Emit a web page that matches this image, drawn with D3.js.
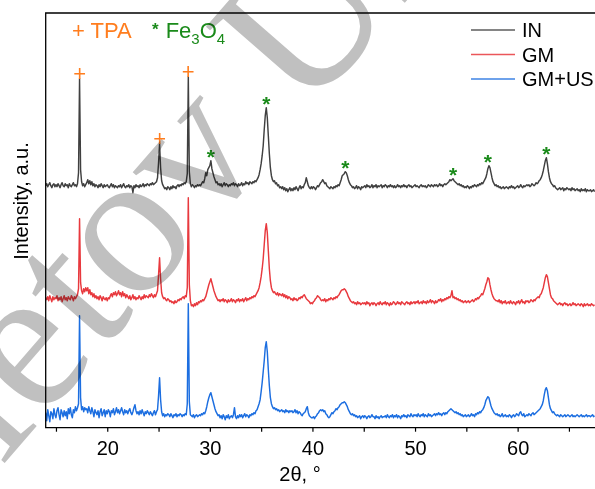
<!DOCTYPE html>
<html><head><meta charset="utf-8">
<script src="https://cdn.jsdelivr.net/npm/d3@7"></script>
<style>body{margin:0;background:#fff}svg{display:block}</style>
</head><body>
<svg id="c" width="595" height="489"></svg>
<script>
// 2θ sampling of the patterns (start, step)
const thetaStart = 14.0, thetaStep = 0.1;
// Intensity (a.u.), one value per step
const IN = [
2,4,1,3,5,2,0,3,4,1, 3,1,4,2,0,3,5,2,1,4, 2,3,0,4,2,1,3,5,2,3, 1,4,15,109,18,6,2,4,1,3,
5,8,4,7,3,6,2,4,1,3, 2,0,3,1,4,2,0,3,1,2, 3,1,0,2,4,1,3,0,2,1, 0,2,1,3,0,2,4,1,0,2,
1,3,0,2,1,-5,2,0,3,1, 2,0,3,1,2,4,1,3,2,4, 3,2,4,3,5,3,4,5,6,10, 25,44,20,7,3,1,-1,0,-2,1,
0,-2,1,-1,2,0,1,-1,2,3, 1,3,2,4,3,5,4,6,14,111, 16,4,1,3,2,0,2,1,3,2, 3,2,4,6,5,9,15,12,18,20,
22,27,19,15,11,8,5,6,3,4, 2,4,1,3,5,2,4,3,1,3, 2,4,3,5,2,4,3,1,4,2, 3,5,2,4,3,6,4,5,3,6,
5,4,6,5,7,6,8,10,13,18, 24,32,42,58,72,80,70,52,34,20, 12,8,6,7,4,5,2,3,0,1, -1,1,-2,0,-3,-1,-4,-2,0,-3,
-1,-3,0,-2,1,-1,-3,0,2,-1, 1,0,3,5,10,6,2,0,-1,1, -1,1,0,-2,0,2,1,3,5,6, 8,6,4,5,2,1,0,-1,1,0,
-1,1,0,2,1,3,2,5,8,12, 13,14,16,15,12,8,5,3,2,0, 1,-1,0,2,-1,1,0,-2,1,0, 1,2,0,3,1,2,0,1,3,0,
2,1,3,0,2,1,2,3,0,2, 1,3,2,0,2,1,3,1,2,0, 2,0,1,3,1,2,0,2,1,3, 1,2,0,2,3,1,2,0,1,2,
3,1,2,1,0,2,3,1,2,1, 2,0,1,3,2,1,3,2,1,3, 2,3,1,2,4,2,3,1,3,4, 3,4,5,6,8,7,8,9,7,6,
5,4,3,4,2,3,1,2,0,1, 0,2,1,-1,1,0,2,1,3,2, 1,3,2,4,3,5,4,6,8,10, 14,19,22,20,15,10,6,4,2,3,
1,2,0,1,-1,0,1,-1,0,1, 0,-1,1,0,2,0,1,-1,0,1, 2,0,1,3,1,0,2,1,2,3, 2,3,1,2,4,3,2,3,5,4,
5,7,8,10,13,17,22,27,30,24, 16,10,6,4,3,1,2,0,-1,-2, -1,0,-2,-1,0,-3,-1,-2,0,-1, -2,-1,-3,0,-2,-1,-3,-2,-1,-3,
-2,-4,-1,-3,-2,-3,-1,-4,-2,-3, -3,-2,-4,-3,-2,-4
];
const GM = [
5,3,6,2,7,4,1,6,3,5, 4,7,2,5,3,6,1,4,7,3, 5,2,6,4,3,7,5,2,6,4, 6,8,14,84,20,12,9,14,11,15,
12,15,9,13,8,10,6,9,5,7, 4,6,3,7,5,2,6,4,3,5, 2,5,4,7,9,6,10,8,11,7, 9,12,8,10,6,11,7,9,5,8,
6,4,7,3,5,8,4,6,3,5, 4,7,5,3,6,4,8,5,7,6, 5,8,6,9,7,5,8,6,9,12, 28,45,24,10,6,4,5,3,2,4,
3,1,2,0,1,-1,2,0,1,3, 2,4,3,5,6,4,7,6,15,105, 18,2,-3,-2,-4,-1,-3,0,-2,1, 0,2,1,3,2,4,6,10,14,18,
21,24,20,16,12,9,6,4,2,3, 1,3,2,4,1,3,2,0,3,1, 2,4,1,3,2,0,3,2,4,1, 3,2,4,1,3,5,2,4,3,5,
4,6,5,7,6,8,10,12,15,20, 26,34,44,58,72,79,70,52,34,22, 15,12,10,11,9,8,10,7,9,8, 7,9,6,8,5,7,4,6,5,3,
4,2,5,3,4,2,3,5,4,6, 5,7,8,6,4,3,2,1,-1,0, -1,1,2,4,5,7,6,5,3,2, 3,2,4,1,3,2,4,3,5,4,
3,5,4,6,5,7,8,10,12,13, 13,14,13,11,9,6,4,2,1,0, 1,-1,0,-2,1,-1,0,-2,-1,0, -1,0,-2,1,-1,0,-3,-1,0,-2,
0,-1,-3,-1,0,-2,1,-1,-2,0, -1,1,-2,0,-1,-3,0,-2,-1,1, 0,-2,-1,1,-1,0,-2,1,0,-1, -2,0,1,-1,0,-2,1,-1,0,1,
-1,1,0,2,-1,0,1,-1,2,0, 1,-1,2,0,1,3,0,2,1,-1, 2,0,1,3,2,4,1,3,2,4, 3,5,4,6,5,7,12,5,6,4,
5,3,4,2,3,1,2,0,1,2, 0,1,2,0,1,2,3,1,2,4, 3,5,4,6,7,9,8,11,14,18, 21,25,24,18,13,9,6,4,3,2,
2,1,3,0,2,-1,1,0,2,-1, 0,1,-1,2,0,-1,1,0,-2,1, 0,2,-1,1,3,0,1,-1,2,1, 2,0,1,3,2,1,3,2,4,5,
6,5,8,9,12,15,20,25,28,26, 20,14,8,5,4,2,1,0,-1,-2, -1,0,-2,-1,-3,-1,0,-2,-1,-3, -2,-1,-3,-2,0,-2,-1,-3,-2,-1,
-2,-3,-1,-2,-4,-1,-3,-2,-1,-3, -2,-3,-1,-2,-3,-2
];
const GMUS = [
3,-5,6,0,-6,4,2,-3,7,1, -2,5,8,1,-4,6,3,-1,5,0, 4,-3,7,2,8,1,-2,6,3,9, 5,8,12,100,18,6,9,4,8,6,
7,3,9,5,2,8,4,-1,6,3, 1,5,-2,4,7,0,3,6,-1,5, 2,6,4,-1,5,3,7,1,4,8, 3,6,2,5,8,4,1,6,3,5,
2,5,7,3,1,4,8,11,5,2, 4,1,5,2,6,3,0,4,2,5, 3,1,4,2,0,3,5,1,4,6, 20,38,16,4,0,2,-1,1,0,2,
1,-1,2,0,-2,1,0,2,-1,1, 0,2,1,-1,1,0,2,1,12,112, 14,1,0,-1,1,-2,0,1,-1,0, 1,0,2,1,3,2,5,9,14,18,
21,23,19,15,11,7,4,2,0,1, -2,0,-3,1,-1,-4,0,-2,1,-3, -1,0,-2,1,8,-1,-3,0,-2,1, -1,1,-2,0,2,-1,1,0,-2,1,
0,2,1,3,2,5,6,9,12,16, 24,33,44,55,68,74,64,46,30,18, 12,9,7,8,6,7,5,6,4,5, 6,4,5,3,6,4,5,3,5,4,
5,3,4,6,3,5,2,4,3,1, 0,2,3,4,7,9,3,0,-1,-2, -2,-1,-3,-1,0,2,3,5,6,5, 6,4,5,2,1,-1,-2,-1,1,3,
2,4,5,7,6,8,9,11,12,13, 13,14,13,11,9,6,4,2,1,2, 0,1,-1,0,-2,-1,0,-3,-1,0, -2,0,-1,-3,-1,0,-2,-1,1,-1,
-1,-3,0,-2,-1,-3,-1,0,-2,-1, -1,0,-2,1,-1,-2,0,-1,1,-2, 0,-1,1,-2,0,-1,-3,0,-1,1, -1,0,-2,1,0,-1,2,0,-1,1,
0,1,-1,2,0,-1,1,0,2,-1, 1,0,-1,2,0,1,-1,0,1,2, 0,2,1,3,1,2,0,2,3,1, 3,2,4,5,6,7,6,5,4,3,
4,2,3,1,2,0,1,-1,0,1, -1,0,1,-1,0,2,0,1,-1,2, 1,3,2,4,3,5,6,8,11,15, 17,19,18,14,10,7,5,3,2,1,
2,0,1,-1,0,2,-1,0,1,-1, 0,-1,1,0,-2,0,1,-1,0,2, 1,0,3,4,1,0,2,-1,0,1, 0,2,1,0,2,3,1,2,3,4,
5,6,7,9,11,15,21,26,28,25, 18,11,7,5,3,4,2,1,0,1, 0,-1,1,0,-1,0,1,-1,0,1, 0,-1,0,1,-1,0,-1,0,1,0,
-1,0,1,-1,0,-1,0,1,-1,0, 0,-1,0,1,-1,0
];
const seriesNames = ["IN", "GM", "GM+US"];
const seriesOffsets = [240, 125, 12];   // vertical stacking offsets, a.u.
const seriesColors = ["#404040", "#e8393e", "#1c6ee0"];
const tpaPeaks = [17.3, 25.1, 27.9];
const fePeaks = [30.1, 35.5, 43.2, 53.7, 57.1, 62.8];
const xTickValues = [15, 20, 25, 30, 35, 40, 45, 50, 55, 60, 65];
const xTickLabels = ["", "20", "", "30", "", "40", "", "50", "", "60", ""];
const xTitle = "2θ, °";
const yTitle = "Intensity, a.u.";
const watermark = "letov Uni";

const svg = d3.select("#c");
const L = 45.7, T = 13, B = 427.7, R = 595.6;
const x = d3.scaleLinear().domain([14, 67.6]).range([L, R]);
const y = d3.scaleLinear().domain([0, 414.7]).range([B, T]);
const FONT = "'Liberation Sans', Arial, sans-serif";

const seriesData = [IN, GM, GMUS];
svg.append("defs").append("clipPath").attr("id", "clip")
  .append("rect").attr("x", L).attr("y", T).attr("width", R - L + 10).attr("height", B - T);

const line = d3.line().x(d => x(d[0])).y(d => y(d[1]));
const gLines = svg.append("g").attr("clip-path", "url(#clip)");
seriesData.forEach((vals, k) => {
  const pts = vals.map((v, i) => [thetaStart + i * thetaStep, v + seriesOffsets[k]]);
  gLines.append("path").datum(pts).attr("d", line)
    .attr("fill", "none").attr("stroke", seriesColors[k]).attr("stroke-width", 1.45)
    .attr("stroke-linejoin", "round");
});

function peakTop(pos) {
  let best = -1e9;
  IN.forEach((v, i) => { const t = thetaStart + i * thetaStep; if (Math.abs(t - pos) < 0.16) best = Math.max(best, v); });
  return y(best + seriesOffsets[0]);
}
svg.append("g").selectAll("text").data(tpaPeaks).join("text")
  .attr("x", d => x(d)).attr("y", d => peakTop(d) + 2)
  .attr("text-anchor", "middle").attr("font-family", FONT).attr("font-size", 22)
  .attr("fill", "#ff7d1e").text("+");
svg.append("g").selectAll("text").data(fePeaks).join("text")
  .attr("x", d => x(d)).attr("y", d => peakTop(d) + 3)
  .attr("text-anchor", "middle").attr("font-family", FONT).attr("font-size", 21).attr("font-weight", "bold")
  .attr("fill", "#1a8a1a").text("*");

// axes frame
svg.append("path").attr("d", `M${R + 5},${T}H${L}V${B}H${R + 5}`)
  .attr("fill", "none").attr("stroke", "#000").attr("stroke-width", 1.3);
const xAxis = d3.axisBottom(x).tickValues(xTickValues)
  .tickFormat((d, i) => xTickLabels[i]).tickSizeInner(4).tickSizeOuter(0).tickPadding(4);
const gx = svg.append("g").attr("transform", `translate(0,${B})`).call(xAxis);
gx.select(".domain").remove();
gx.selectAll(".tick line").attr("stroke", "#000").attr("stroke-width", 1.2);
gx.selectAll(".tick text").attr("font-family", FONT).attr("font-size", 20).attr("fill", "#000").attr("dy", "0.95em");

svg.append("text").attr("x", 300).attr("y", 481).attr("text-anchor", "middle")
  .attr("font-family", FONT).attr("font-size", 20).text(xTitle);
svg.append("text").attr("transform", "translate(28,201) rotate(-90)").attr("text-anchor", "middle")
  .attr("font-family", FONT).attr("font-size", 20).text(yTitle);

// phase legend
const ph = svg.append("text").attr("x", 72).attr("y", 38).attr("font-family", FONT).attr("font-size", 22);
ph.append("tspan").attr("fill", "#ff7d1e").text("+ TPA");
const fe = svg.append("text").attr("x", 152).attr("y", 38).attr("font-family", FONT).attr("font-size", 22).attr("fill", "#1a8a1a");
fe.append("tspan").attr("font-weight", "bold").attr("font-size", 17).attr("dy", -3).text("*");
fe.append("tspan").attr("dx", 7).attr("dy", 3).text("Fe");
fe.append("tspan").attr("font-size", 15).attr("dy", 6).text("3");
fe.append("tspan").attr("dy", -6).text("O");
fe.append("tspan").attr("font-size", 15).attr("dy", 6).text("4");

// series legend
const lg = svg.append("g");
seriesNames.forEach((n, k) => {
  const yy = 30 + k * 24.5;
  lg.append("line").attr("x1", 471).attr("x2", 515).attr("y1", yy).attr("y2", yy)
    .attr("stroke", seriesColors[k]).attr("stroke-width", 1.3).attr("opacity", 0.85);
  lg.append("text").attr("x", 522).attr("y", yy + 7).attr("font-family", FONT).attr("font-size", 20).text(n);
});

// watermark
svg.append("text").attr("transform", "translate(2,466) rotate(-49)")
  .attr("font-family", "'Liberation Serif', 'DejaVu Serif', serif").attr("font-size", 205)
  .attr("fill", "#c0c0c0").style("mix-blend-mode", "multiply").text(watermark);
</script>
</body></html>
